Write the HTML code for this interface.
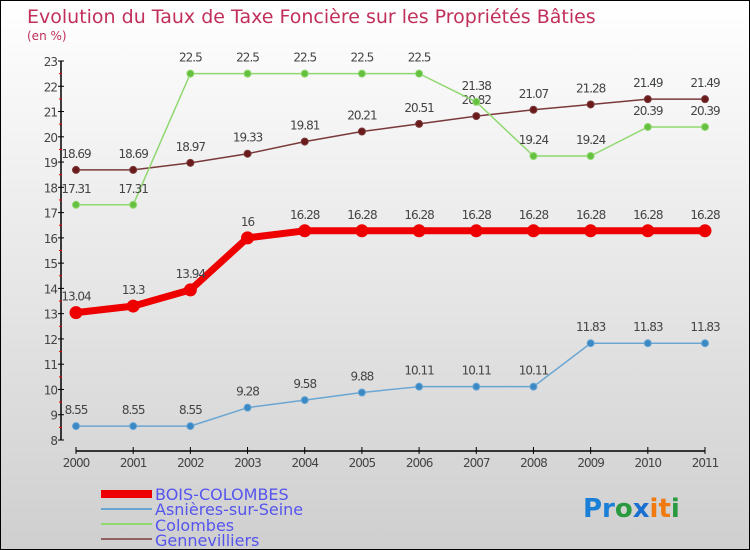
<!DOCTYPE html>
<html><head><meta charset="utf-8"><style>
body{margin:0}
#c{width:748px;height:548px;border:1px solid #000;background:linear-gradient(#ffffff,#cfcfcf);position:relative;overflow:hidden;font-family:"DejaVu Sans","Liberation Sans",sans-serif}
</style></head><body>
<div id="c">
<svg id="s" width="748" height="548" xmlns="http://www.w3.org/2000/svg">
<text x="26" y="22" font-size="19" fill="#c0305a">Evolution du Taux de Taxe Foncière sur les Propriétés Bâties</text>
<text x="26" y="39" font-size="12" fill="#c0305a">(en %)</text>
<g id="axes"></g><g id="series"></g>
<g font-size="16" fill="#5555ee">
<rect x="100" y="489" width="51" height="8" fill="#ee0000"/>
<text x="154" y="499">BOIS-COLOMBES</text>
<rect x="100" y="507" width="51" height="2" fill="#6aa6d4"/>
<text x="154" y="514">Asnières-sur-Seine</text>
<rect x="100" y="522" width="51" height="2" fill="#90d870"/>
<text x="154" y="530">Colombes</text>
<rect x="100" y="537" width="51" height="2" fill="#906060"/>
<text x="154" y="545">Gennevilliers</text>
</g>
<g font-size="26" font-weight="bold">
<text x="582" y="516"><tspan fill="#1a7fd6">Pr</tspan><tspan fill="#2a9a40">o</tspan><tspan fill="#1a70d0">x</tspan><tspan fill="#f07a10">it</tspan><tspan fill="#2a9a40">i</tspan></text>
</g>
</svg></div>
<script>
const years=["2000","2001","2002","2003","2004","2005","2006","2007","2008","2009","2010","2011"];
const yTicks=[8,9,10,11,12,13,14,15,16,17,18,19,20,21,22,23];
const bois=[13.04,13.3,13.94,16,16.28,16.28,16.28,16.28,16.28,16.28,16.28,16.28];
const asnieres=[8.55,8.55,8.55,9.28,9.58,9.88,10.11,10.11,10.11,11.83,11.83,11.83];
const colombes=[17.31,17.31,22.5,22.5,22.5,22.5,22.5,21.38,19.24,19.24,20.39,20.39];
const genne=[18.69,18.69,18.97,19.33,19.81,20.21,20.51,20.82,21.07,21.28,21.49,21.49];
const NS="http://www.w3.org/2000/svg";
const X=i=>75+i*(629/11);
const Y=v=>439-(v-8)*(379/15);
function mk(t,a,p){const e=document.createElementNS(NS,t);for(const k in a)e.setAttribute(k,a[k]);p.appendChild(e);return e;}
const ax=document.getElementById('axes');
let yl=mk('line',{x1:60,y1:Y(23),x2:60,y2:Y(8),stroke:'#000','stroke-width':1.5},ax);


yTicks.forEach(v=>{
 mk('line',{x1:57,x2:63,y1:Y(v),y2:Y(v),stroke:'#000'},ax);
 if(v<23) mk('line',{x1:58,x2:61,y1:Y(v+0.5),y2:Y(v+0.5),stroke:'#e00'},ax);
 const t=mk('text',{x:56,y:Y(v)+5,'font-size':12,'text-anchor':'end',fill:'#444','letter-spacing':'-1'},ax);t.textContent=v;
 
 
});
let xl=mk('line',{x1:X(0),y1:450,x2:X(11),y2:450,stroke:'#000','stroke-width':1.5},ax);


years.forEach((y,i)=>{
 mk('line',{x1:X(i),x2:X(i),y1:446,y2:453,stroke:'#000'},ax);
 const t=mk('text',{x:X(i),y:466,'font-size':12,'text-anchor':'middle',fill:'#444','letter-spacing':'-1'},ax);t.textContent=y;
 
 
});
const sg=document.getElementById('series');
function series(name,data,color,dot,w,r){
 const g=mk('g',{},sg);
 
 
 const l=mk('polyline',{points:data.map((v,i)=>X(i)+','+Y(v)).join(' '),fill:'none',stroke:color,'stroke-width':w,'stroke-linejoin':'round'},g);
 
 
 data.forEach((v,i)=>{
  const c=mk('circle',{cx:X(i),cy:Y(v),r:r,fill:dot,stroke:color,'stroke-width':1},g);
  
  
  const t=mk('text',{x:X(i),y:Y(v)-12,'font-size':12,'text-anchor':'middle',fill:'#444','letter-spacing':'-1'},g);t.textContent=v;
  
  
 });
}
series('gennevilliers',genne,'#7a3a3a','#6a1a1a',1.5,3.5);
series('colombes',colombes,'#90d870','#66c040',1.5,3.5);
series('asnieres',asnieres,'#6aa6d4','#3a88c4',1.5,3.5);
series('bois-colombes',bois,'#ee0000','#ee0000',7,6);
</script>
</body></html>
